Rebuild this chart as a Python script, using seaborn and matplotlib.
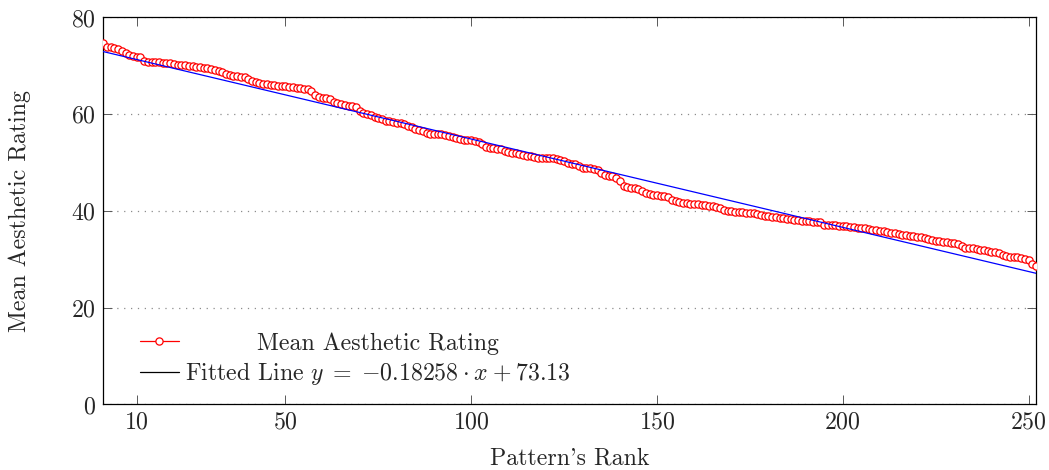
import numpy as np
import pandas as pd
import matplotlib
matplotlib.use("Agg")
import matplotlib.pyplot as plt
import matplotlib.transforms as mtransforms
from matplotlib.lines import Line2D
import seaborn as sns

# Mean aesthetic rating of each pattern, ordered by rank (rank 1 .. 252)
rating = [
    74.8, 74.0, 73.8, 73.7, 73.4, 73.0, 72.6, 72.2, 72.0, 71.9,
    71.8, 71.1, 70.8, 70.8, 70.8, 70.7, 70.6, 70.55, 70.5, 70.35,
    70.2, 70.15, 70.1, 69.9, 69.9, 69.8, 69.75, 69.6, 69.5, 69.3,
    69.1, 69.0, 68.7, 68.4, 68.1, 68.0, 67.9, 67.7, 67.6, 67.3,
    66.9, 66.6,
    66.5, 66.3, 66.2, 66.1, 66.0, 65.9, 65.85, 65.8, 65.7, 65.6,
    65.5, 65.4, 65.3, 65.2, 64.9, 63.9, 63.6, 63.4, 63.3, 63.1,
    62.6, 62.3, 62.1, 61.9, 61.8, 61.7, 61.4, 60.6, 60.2, 60.0,
    59.9, 59.5, 59.2, 59.0, 58.6, 58.5, 58.4, 58.2, 58.1, 57.9,
    57.6, 57.3,
    57.05, 56.7, 56.5, 56.2, 56.0, 56.0, 55.95, 55.9, 55.8, 55.6,
    55.3, 55.0, 54.8, 54.7, 54.65, 54.6, 54.4, 54.2, 53.9, 53.3,
    53.1, 53.05, 52.9, 52.8, 52.5, 52.2, 52.0, 51.9, 51.7, 51.6,
    51.4, 51.3, 51.1, 51.0, 51.0, 50.9, 50.85, 50.85, 50.7, 50.6,
    50.3, 49.85,
    49.75, 49.7, 49.4, 48.85, 48.85, 48.8, 48.7, 48.4, 47.8, 47.5,
    47.3, 47.2, 46.8, 46.3, 45.1, 44.9, 44.8, 44.7, 44.5, 44.2,
    43.7, 43.5, 43.4, 43.3, 43.2, 43.1, 42.8, 42.2, 42.0, 41.8,
    41.6, 41.55, 41.5, 41.4, 41.4, 41.3, 41.2, 41.1, 41.0, 40.9,
    40.6, 40.3,
    40.0, 39.9, 39.8, 39.75, 39.7, 39.6, 39.55, 39.5, 39.3, 39.1,
    38.95, 38.9, 38.8, 38.7, 38.65, 38.5, 38.4, 38.25, 38.1, 38.05,
    38.0, 37.95, 37.9, 37.8, 37.8, 37.7, 37.1, 37.1, 37.0, 37.0,
    36.9, 36.9, 36.8, 36.7, 36.6, 36.5, 36.5, 36.4, 36.25, 36.1,
    36.0,
    35.9, 35.8, 35.6, 35.5, 35.35, 35.2, 35.1, 35.0, 34.9, 34.8,
    34.7, 34.6, 34.4, 34.2, 34.1, 33.8, 33.7, 33.55, 33.5, 33.4,
    33.3, 33.1, 32.7, 32.45, 32.3, 32.25, 32.2, 32.0, 31.9, 31.8,
    31.6, 31.5, 31.4, 30.8, 30.7, 30.5, 30.5, 30.4, 30.3, 30.1,
    29.8, 29.1, 28.6,
]
rank = list(range(1, len(rating) + 1))

# Linear fit reported in the legend
slope = -0.18258
intercept = 73.13

x_ticks = [10, 50, 100, 150, 200, 250]
y_ticks = [0, 20, 40, 60, 80]

data_label = "Mean Aesthetic Rating"
fit_label = r"Fitted Line $y\;=\;{-0.18258}\:\cdot\:x\:+\:73.13$"

df = pd.DataFrame({"rank": rank, "rating": rating})
df["fitted"] = slope * df["rank"] + intercept

sns.set_theme(style="ticks")
plt.rcParams["font.family"] = "serif"
plt.rcParams["font.serif"] = ["cmr10", "DejaVu Serif"]
plt.rcParams["mathtext.fontset"] = "cm"
plt.rcParams["axes.formatter.use_mathtext"] = True
plt.rcParams["axes.unicode_minus"] = False

FS = 17.2

fig = plt.figure(figsize=(10.49, 4.70), dpi=100)
ax = fig.add_axes([0.0985, 0.1394, 0.8891, 0.8234])

sns.lineplot(data=df, x="rank", y="rating", ax=ax, color="red",
             marker="o", markersize=5.2, markerfacecolor="white",
             markeredgecolor="red", markeredgewidth=0.9,
             linewidth=0.9, legend=False, zorder=3)
sns.lineplot(data=df, x="rank", y="fitted", ax=ax, color="blue",
             linewidth=0.9, legend=False, zorder=4)

ax.set_xlim(1, 252)
ax.set_ylim(0, 80)
ax.set_xticks(x_ticks)
ax.set_yticks(y_ticks)
ax.yaxis.grid(True, color="0.55", linestyle=(0, (1, 4.5)), linewidth=0.9)
ax.set_axisbelow(True)

for s in ax.spines.values():
    s.set_visible(True)
    s.set_linewidth(0.9)
    s.set_color("black")

ax.tick_params(direction="in", length=6.6, width=0.7, color="0.35",
               top=True, right=True, labelsize=FS, pad=5)
ax.set_xlabel("Pattern's Rank", fontsize=FS, labelpad=10)
ax.set_ylabel(data_label, fontsize=FS, labelpad=29)

handles = [
    Line2D([], [], color="red", linewidth=0.9, marker="o", markersize=5.2,
           markerfacecolor="white", markeredgecolor="red", markeredgewidth=0.9),
    Line2D([], [], color="black", linewidth=0.9),
]
leg = ax.legend(handles, [data_label, fit_label], loc="lower left",
                bbox_to_anchor=(0.039, 0.045), frameon=False, fontsize=FS,
                handlelength=1.65, handletextpad=0.25, labelspacing=0.22,
                borderpad=0, borderaxespad=0)

# centre the legend texts on a common column, as in a centred legend cell
fig.canvas.draw()
renderer = fig.canvas.get_renderer()
t1, t2 = leg.get_texts()
w1 = t1.get_window_extent(renderer).width
w2 = t2.get_window_extent(renderer).width
t1.set_transform(t1.get_transform() + mtransforms.Affine2D().translate((w2 - w1) / 2, 0))

fig.savefig("out.png", dpi=100)
